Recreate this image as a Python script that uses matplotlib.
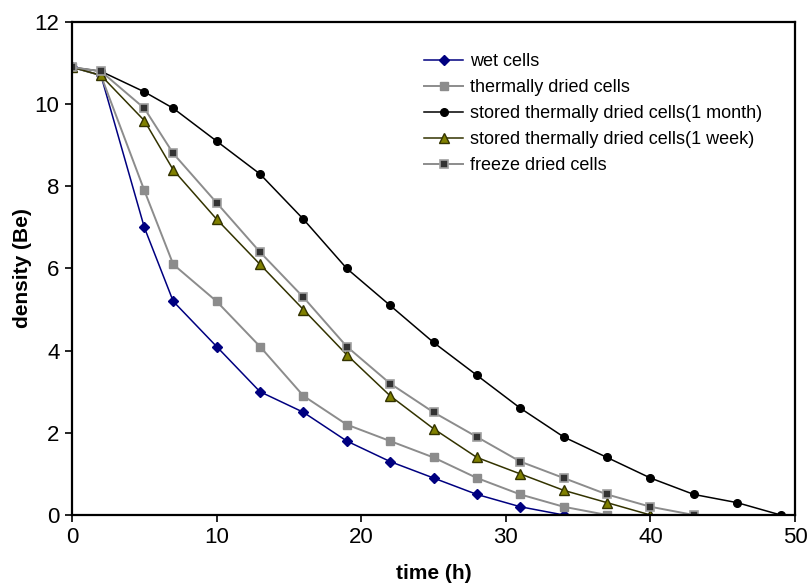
import matplotlib
matplotlib.use('Agg')
import matplotlib.pyplot as plt

# data
time_h = [0, 2, 5, 7, 10, 13, 16, 19, 22, 25, 28, 31, 34, 37, 40, 43, 46, 49]
wet = [10.9, 10.7, 7.0, 5.2, 4.1, 3.0, 2.5, 1.8, 1.3, 0.9, 0.5, 0.2, 0.0]
thermal = [10.9, 10.7, 7.9, 6.1, 5.2, 4.1, 2.9, 2.2, 1.8, 1.4, 0.9, 0.5, 0.2, 0.0]
stored_month = [10.9, 10.8, 10.3, 9.9, 9.1, 8.3, 7.2, 6.0, 5.1, 4.2, 3.4, 2.6, 1.9,
                1.4, 0.9, 0.5, 0.3, 0.0]
stored_week = [10.9, 10.7, 9.6, 8.4, 7.2, 6.1, 5.0, 3.9, 2.9, 2.1, 1.4, 1.0, 0.6, 0.3, 0.0]
freeze = [10.9, 10.8, 9.9, 8.8, 7.6, 6.4, 5.3, 4.1, 3.2, 2.5, 1.9, 1.3, 0.9, 0.5, 0.2, 0.0]
labels = ['wet cells', 'thermally dried cells', 'stored thermally dried cells(1 month)',
          'stored thermally dried cells(1 week)', 'freeze dried cells']

plt.rcParams['font.family'] = ['Liberation Sans', 'DejaVu Sans']

fig = plt.figure(figsize=(8.11, 5.85), dpi=100)
ax = fig.add_axes([0.0888, 0.1197, 0.8915, 0.8427])

ax.plot(time_h[:len(wet)], wet, color='#000080', lw=1.1, marker='D', ms=5,
        mfc='#000080', mec='#000080', label=labels[0])
ax.plot(time_h[:len(thermal)], thermal, color='#8c8c8c', lw=1.4, marker='s', ms=5.5,
        mfc='#8c8c8c', mec='#8c8c8c', label=labels[1])
ax.plot(time_h[:len(stored_month)], stored_month, color='black', lw=1.1, marker='o', ms=5.5,
        mfc='black', mec='black', label=labels[2])
ax.plot(time_h[:len(stored_week)], stored_week, color='#333300', lw=1.1, marker='^', ms=6.5,
        mfc='#808000', mec='#333300', label=labels[3])
ax.plot(time_h[:len(freeze)], freeze, color='#8c8c8c', lw=1.4, marker='s', ms=5.5,
        mfc='#333333', mec='#a0a0a0', mew=1.2, label=labels[4])

ax.set_xlim(0, 50)
ax.set_ylim(0, 12)
ax.set_xticks(range(0, 51, 10))
ax.set_yticks(range(0, 13, 2))
ax.tick_params(direction='out', length=5, width=1.2, labelsize=16, pad=4)
for s in ax.spines.values():
    s.set_linewidth(1.6)

ax.set_xlabel('time (h)', fontsize=15, fontweight='bold', labelpad=11)
ax.set_ylabel('density (Be)', fontsize=15, fontweight='bold', labelpad=2)

ax.legend(loc='upper left', bbox_to_anchor=(0.474, 0.955), frameon=False, fontsize=13,
          borderpad=0, handlelength=2.2, handletextpad=0.35, labelspacing=0.5)

plt.savefig('out.png', dpi=100)
